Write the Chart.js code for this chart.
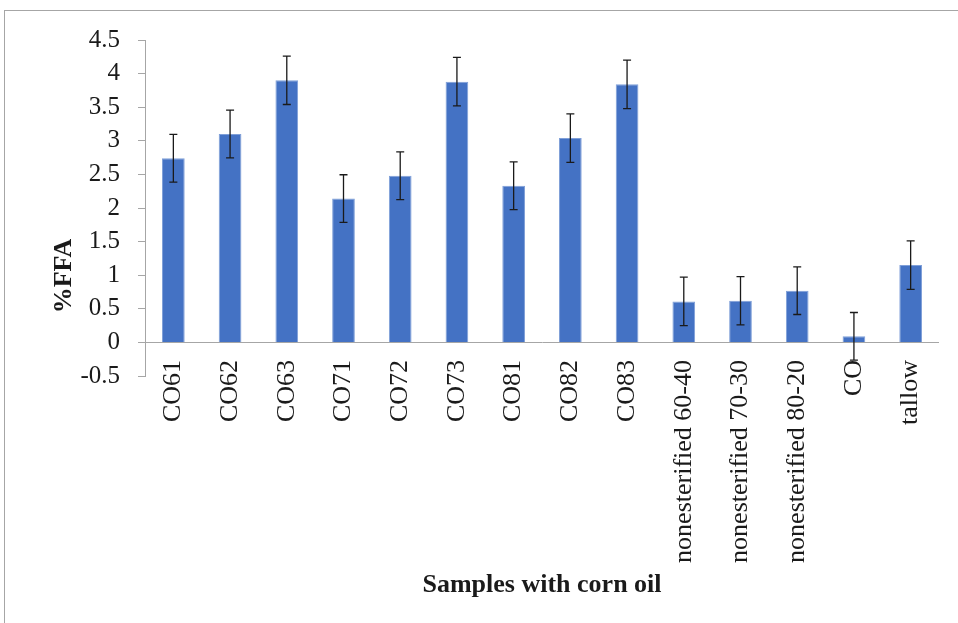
<!DOCTYPE html>
<html lang="en">
<head>
  <meta charset="UTF-8">
  <script src="https://cdn.jsdelivr.net/npm/chart.js"></script>
  <title>%FFA - samples with corn oil</title>
  <style>
    html, body { margin: 0; padding: 0; background: #fff; overflow: hidden; }
    .frame {
      position: absolute; left: 4px; top: 10px; width: 1000px; height: 700px;
      border-top: 1px solid #a6a6a6; border-left: 1px solid #a6a6a6;
    }
    canvas { position: absolute; left: 0; top: 0; }
  </style>
</head>
<body>
<div class="frame"></div>
<canvas id="ffaChart" width="958" height="623"></canvas>
<script>
  // values
  const samples = ['CO61', 'CO62', 'CO63', 'CO71', 'CO72', 'CO73', 'CO81', 'CO82', 'CO83',
    'nonesterified 60-40', 'nonesterified 70-30', 'nonesterified 80-20', 'CO', 'tallow'];
  const ffa = [2.74, 3.10, 3.90, 2.14, 2.48, 3.88, 2.33, 3.04, 3.84, 0.61, 0.62, 0.77, 0.09, 1.15];
  const ffaErr = [0.355, 0.355, 0.36, 0.355, 0.355, 0.36, 0.355, 0.36, 0.36, 0.36, 0.36, 0.355, 0.355, 0.36];

  const serif = '"Liberation Serif", "Times New Roman", serif';
  const axisGray = '#a6a6a6';

  // draws the error bars on top of the bars
  const errorBars = {
    id: 'errorBars',
    afterDatasetsDraw(chart) {
      const ctx = chart.ctx;
      const y = chart.scales.y;
      const meta = chart.getDatasetMeta(0);
      ctx.save();
      ctx.strokeStyle = '#1a1a1a';
      ctx.lineWidth = 1.3;
      meta.data.forEach((bar, i) => {
        const top = y.getPixelForValue(ffa[i] + ffaErr[i]);
        const bottom = y.getPixelForValue(ffa[i] - ffaErr[i]);
        ctx.beginPath();
        ctx.moveTo(bar.x, top);
        ctx.lineTo(bar.x, bottom);
        ctx.moveTo(bar.x - 4, top);
        ctx.lineTo(bar.x + 4, top);
        ctx.moveTo(bar.x - 4, bottom);
        ctx.lineTo(bar.x + 4, bottom);
        ctx.stroke();
      });
      ctx.restore();
    }
  };

  // y axis title sits lower than the axis centre in the original
  const yTitle = {
    id: 'yTitle',
    afterDraw(chart) {
      const ctx = chart.ctx;
      ctx.save();
      ctx.translate(64, chart.chartArea.bottom - 100);
      ctx.rotate(-Math.PI / 2);
      ctx.font = 'bold 26px ' + serif;
      ctx.fillStyle = '#1a1a1a';
      ctx.textAlign = 'center';
      ctx.textBaseline = 'middle';
      ctx.fillText('%FFA', 0, 0);
      ctx.restore();
    }
  };

  new Chart(document.getElementById('ffaChart'), {
    type: 'bar',
    data: {
      labels: samples,
      datasets: [{
        label: '%FFA',
        data: ffa,
        backgroundColor: '#4472c4',
        borderColor: '#7f9fd8',
        borderWidth: 1,
        barPercentage: 0.4,
        categoryPercentage: 1.0
      }]
    },
    options: {
      responsive: false,
      animation: false,
      layout: { padding: { left: 0, top: 40, right: 19, bottom: 0 } },
      plugins: {
        legend: { display: false },
        tooltip: { enabled: false }
      },
      scales: {
        x: {
          grid: { display: false, drawTicks: false },
          border: { display: false },
          ticks: {
            autoSkip: false,
            minRotation: 90,
            maxRotation: 90,
            padding: -16,
            color: '#1a1a1a',
            font: { family: serif, size: 26 }
          },
          title: {
            display: true,
            text: 'Samples with corn oil',
            color: '#1a1a1a',
            font: { family: serif, size: 26, weight: 'bold' },
            padding: { top: 0, bottom: 22 }
          },
          afterFit(scale) {
            scale.height = 247;
            // labels start a little above the plot bottom, so don't clip them to the axis box
            scale._computeLabelArea = () => undefined;
          }
        },
        y: {
          min: -0.5,
          max: 4.5,
          border: { display: true, color: axisGray, width: 1 },
          grid: {
            color: ctx => (ctx.tick && ctx.tick.value === 0 ? axisGray : 'rgba(0,0,0,0)'),
            tickColor: axisGray,
            tickLength: 7,
            lineWidth: 1
          },
          ticks: {
            stepSize: 0.5,
            padding: 18,
            color: '#1a1a1a',
            font: { family: serif, size: 25 },
            callback: v => String(Math.round(v * 10) / 10)
          },
          afterFit(scale) { scale.width = 145; }
        }
      }
    },
    plugins: [errorBars, yTitle]
  });
</script>
</body>
</html>
